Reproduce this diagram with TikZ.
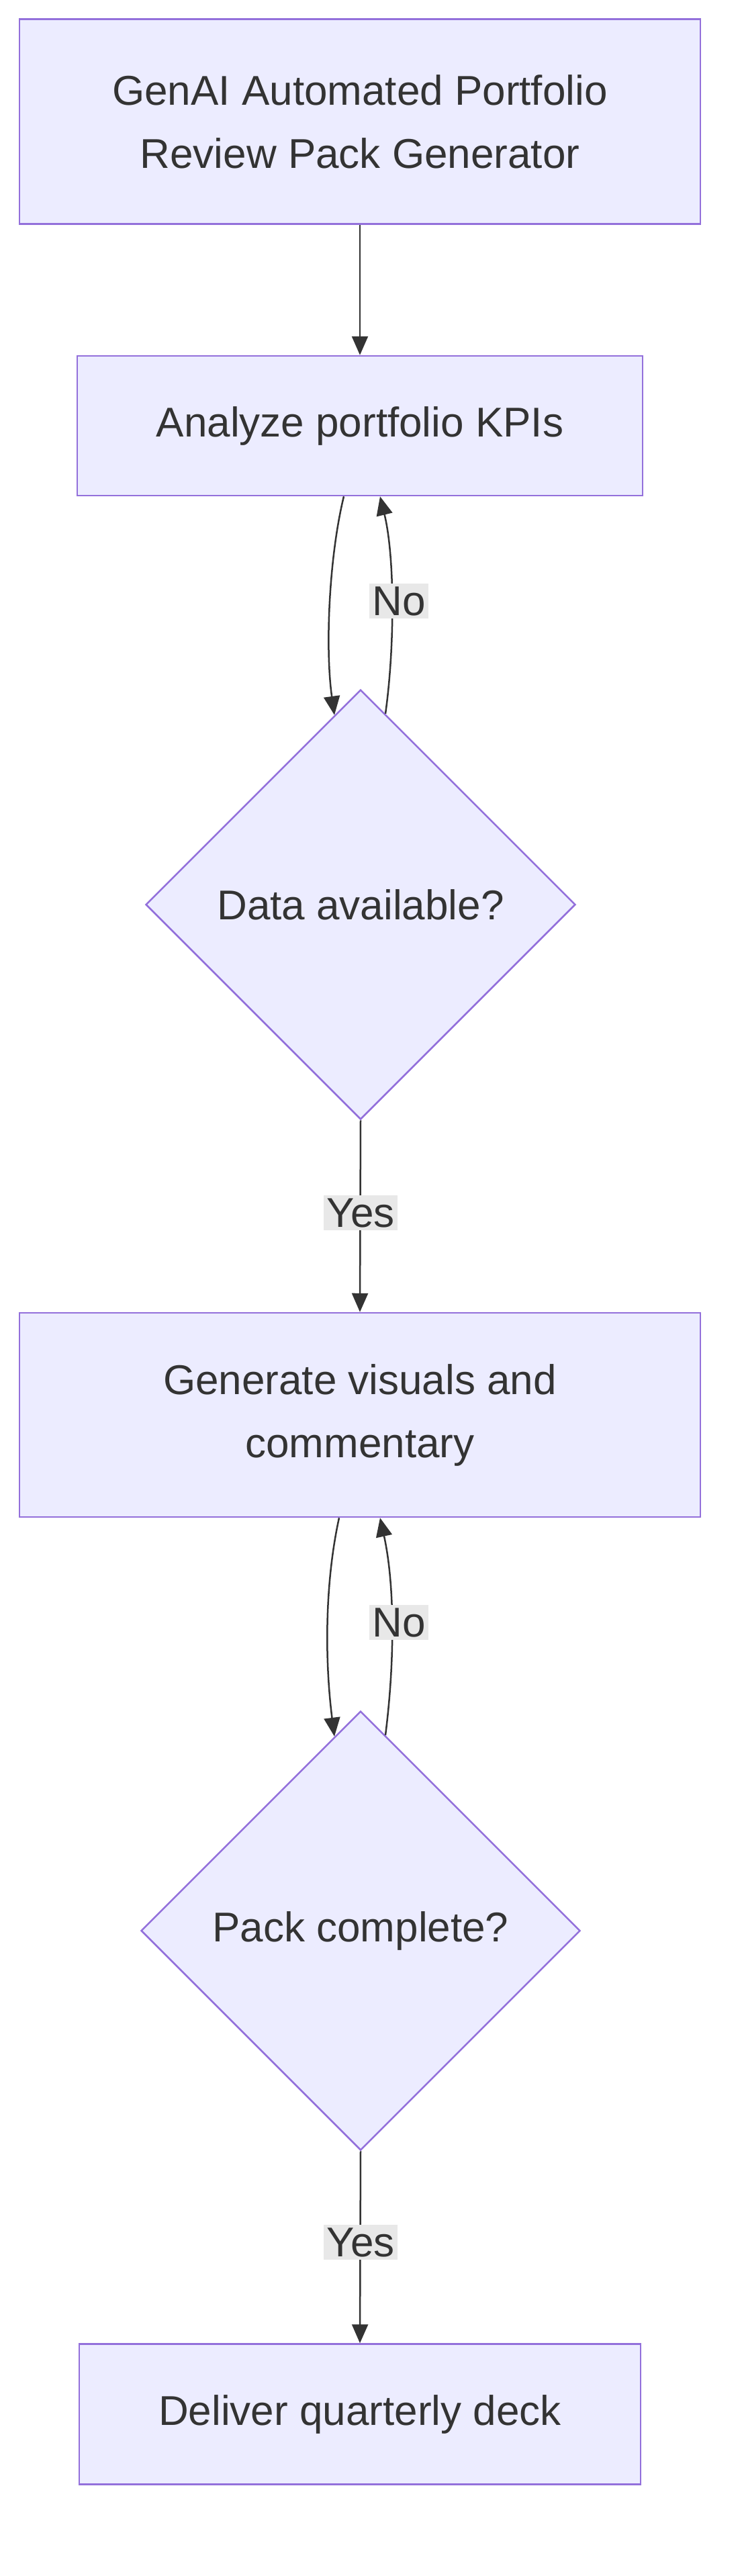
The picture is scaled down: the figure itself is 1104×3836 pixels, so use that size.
\documentclass[tikz,border=0pt]{standalone}
\usepackage{fontspec}
\setmainfont{Liberation Sans}
\usetikzlibrary{shapes.geometric,arrows.meta,calc}
\definecolor{fillc}{HTML}{ECECFF}
\definecolor{strokec}{HTML}{9370DB}
\definecolor{linec}{HTML}{333333}
\definecolor{lblc}{HTML}{E8E8E8}
\tikzset{
  box/.style={draw=strokec,fill=fillc,line width=2.5pt,rectangle,text=linec,font=\fontsize{62}{94}\selectfont,align=center,inner sep=0pt},
  dia/.style={draw=strokec,fill=fillc,line width=2.5pt,diamond,aspect=1,text=linec,font=\fontsize{62}{94}\selectfont,inner sep=0pt},
  edge/.style={draw=linec,line width=2.5pt,-{Triangle[length=28pt,width=24pt]}},
  lbl/.style={fill=lblc,text=linec,font=\fontsize{62}{70}\selectfont,inner sep=4pt}
}
\begin{document}
\begin{tikzpicture}[x=1pt,y=-1pt]
\useasboundingbox (0,0) rectangle (1104,3836);
\node[box,minimum width=1014pt,minimum height=305pt] (b1) at (536,181) {GenAI Automated Portfolio\\Review Pack Generator};
\node[box,minimum width=842pt,minimum height=208pt] (b2) at (536,634) {Analyze portfolio KPIs};
\node[dia,minimum width=640pt,minimum height=640pt] (d1) at (537,1347) {Data available?};
\node[box,minimum width=1014pt,minimum height=304pt] (b3) at (536,2107) {Generate visuals and\\commentary};
\node[dia,minimum width=654pt,minimum height=654pt] (d2) at (537,2875) {Pack complete?};
\node[box,minimum width=836pt,minimum height=209pt] (b5) at (536,3595) {Deliver quarterly deck};

\draw[edge] (b1.south) -- (b2.north);
\draw[edge] ($(b2.south)+(-24,0)$) .. controls +(-22,90) and +(-14,-100) .. ($(d1.north)+(-39,39)$);
\draw[edge] ($(d1.north)+(37,37)$) .. controls +(14,-100) and +(22,90) .. ($(b2.south)+(30,0)$);
\node[lbl] (n1) at (594,895) {No};
\draw[edge] (d1.south) -- (b3.north);
\node[lbl] (y1) at (537,1806) {Yes};

\draw[edge] ($(b3.south)+(-31,0)$) .. controls +(-22,100) and +(-14,-110) .. ($(d2.north)+(-39,39)$);
\draw[edge] ($(d2.north)+(37,37)$) .. controls +(14,-110) and +(22,100) .. ($(b3.south)+(30,0)$);
\node[lbl] (n2) at (594,2416) {No};
\draw[edge] (d2.south) -- (b5.north);
\node[lbl] (y2) at (537,3339) {Yes};
\end{tikzpicture}
\end{document}
